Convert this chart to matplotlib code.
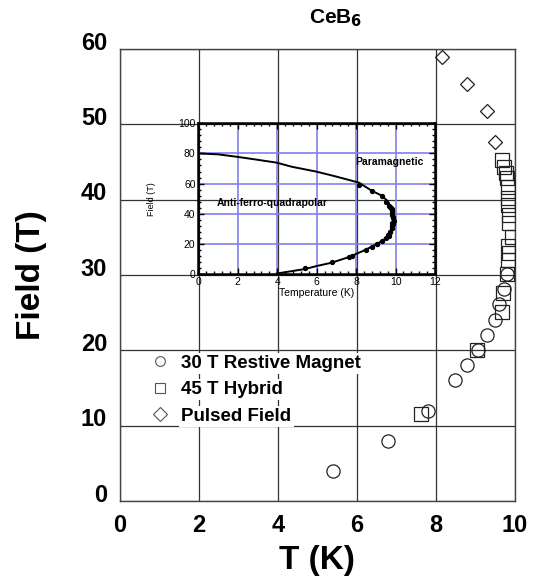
import matplotlib
matplotlib.use("Agg")
import matplotlib.pyplot as plt
import matplotlib.transforms as mtransforms

plt.rcParams['font.family'] = ['Liberation Sans', 'DejaVu Sans']

# ---- data ----
circ_T = [5.4, 6.8, 7.8, 8.49, 8.79, 9.07, 9.29, 9.5, 9.6, 9.73, 9.8]
circ_F = [4.0, 8.0, 12.0, 16.1, 18.0, 20.05, 22.1, 24.0, 26.1, 28.2, 30.2]

sq_T = [7.62, 9.04, 9.69, 9.71, 9.8, 9.84, 9.85, 9.84, 9.92, 9.86, 9.85, 9.84, 9.84,
        9.82, 9.8, 9.78, 9.74, 9.67]
sq_F = [11.55, 20.05, 25.1, 27.6, 30.2, 32.0, 32.9, 33.8, 35.1, 36.9, 38.0, 39.3, 40.2,
        41.7, 42.9, 43.5, 44.3, 45.3]

dia_T = [9.5, 9.3, 8.8, 8.15]
dia_F = [47.7, 51.8, 55.3, 59.0]

# inset phase boundary
curve_T = [0.0, 1.0, 1.95, 3.0, 3.97, 4.73, 6.0, 7.01, 8.15, 8.79, 9.3, 9.63, 9.83,
           9.94, 9.88, 9.63, 9.12, 8.45, 7.69, 6.76, 6.0, 5.41, 3.97]
curve_F = [80.0, 79.4, 77.8, 75.8, 73.9, 71.2, 67.9, 64.6, 60.6, 55.3, 52.0, 48.0, 42.5,
           35.8, 30.3, 24.8, 20.4, 15.9, 11.5, 7.5, 5.3, 3.3, 0.3]

main_xticks = [0, 2, 4, 6, 8, 10]
main_yticks = [0, 10, 20, 30, 40, 50, 60]
inset_xticks = [0, 2, 4, 6, 8, 10, 12]
inset_yticks = [0, 20, 40, 60, 80, 100]

legend_labels = ["30 T Restive Magnet", "45 T Hybrid", "Pulsed Field"]

# ---- figure ----
fig = plt.figure(figsize=(5.37, 5.86), dpi=100)
ax = fig.add_axes([0.2229, 0.145, 0.7356, 0.7714])
ax.set_xlim(0, 10)
ax.set_ylim(0, 60)
ax.set_xticks(main_xticks)
ax.set_yticks(main_yticks)
ax.grid(True, color='#333333', linewidth=0.9)
ax.set_axisbelow(True)
for s in ax.spines.values():
    s.set_color('#444444')
    s.set_linewidth(1.0)
ax.tick_params(length=0, labelsize=17, pad=9)
for lab in ax.get_xticklabels() + ax.get_yticklabels():
    lab.set_fontweight('bold')
off = mtransforms.ScaledTranslation(0, 6 / 72, fig.dpi_scale_trans)
for lab in ax.get_yticklabels():
    lab.set_transform(lab.get_transform() + off)

mk = dict(linestyle='none', markerfacecolor='none', markeredgecolor='#222222',
          markeredgewidth=0.9, zorder=5)
h1, = ax.plot(circ_T, circ_F, marker='o', markersize=9.5, label=legend_labels[0], **mk)
h2, = ax.plot(sq_T, sq_F, marker='s', markersize=9.5, label=legend_labels[1], **mk)
h3, = ax.plot(dia_T, dia_F, marker='D', markersize=7, label=legend_labels[2], **mk)

ax.set_xlabel("T (K)", fontsize=24, fontweight='bold', labelpad=6)
ax.set_ylabel("Field (T)", fontsize=24, fontweight='bold', labelpad=24)

leg = ax.legend(handles=[h1, h2, h3], loc='upper left', bbox_to_anchor=(0.073, 0.328),
                prop={'size': 13.5, 'weight': 'bold'}, frameon=False,
                handlelength=1.0, handletextpad=0.65, labelspacing=0.5,
                borderpad=0.1, borderaxespad=0)
for lh in leg.legend_handles:
    lh.set_markersize(7)
    lh.set_markeredgecolor('#555555')
    lh.set_markeredgewidth(0.8)
for t in leg.get_texts():
    t.set_bbox(dict(facecolor='white', edgecolor='none', pad=1.5))
leg.set_zorder(3)

fig.text(0.626, 0.969, r"CeB$_\mathbf{6}$", fontsize=15, fontweight='bold',
         ha='center', va='center')

# ---- inset ----
ins = fig.add_axes([0.3693, 0.5324, 0.4407, 0.2572])
ins.patch.set_alpha(0)
ins.set_xlim(0, 12)
ins.set_ylim(0, 100)
ins.set_xticks(inset_xticks)
ins.set_yticks(inset_yticks)
ins.set_xticks([x * 0.4 for x in range(31)], minor=True)
ins.set_yticks([y * 4 for y in range(26)], minor=True)
for x in inset_xticks[1:-1]:
    ins.axvline(x, color='#8080e8', linewidth=1.2, zorder=1)
for y in inset_yticks[1:-1]:
    ins.axhline(y, color='#8080e8', linewidth=1.2, zorder=1)
for s in ins.spines.values():
    s.set_linewidth(1.8)
ins.tick_params(which='both', direction='in', top=True, right=True, labelsize=7.5,
                width=1.0, pad=2)
ins.tick_params(which='major', length=4)
ins.tick_params(which='minor', length=2.5)
ins.plot(curve_T, curve_F, color='black', linewidth=1.4, zorder=3)
ins.plot(circ_T + sq_T + dia_T, circ_F + sq_F + dia_F, linestyle='none', marker='o',
         markersize=2.8, color='black', zorder=4)
ins.set_xlabel("Temperature (K)", fontsize=7.5, labelpad=1)
ins.set_ylabel("Field (T)", fontsize=6.5, labelpad=16)
ins.text(7.95, 74, "Paramagnetic", fontsize=7.5, fontweight='bold', va='center')
ins.text(0.95, 47, "Anti-ferro-quadrapolar", fontsize=7.5, fontweight='bold', va='center')

fig.savefig("out.png", dpi=100)
